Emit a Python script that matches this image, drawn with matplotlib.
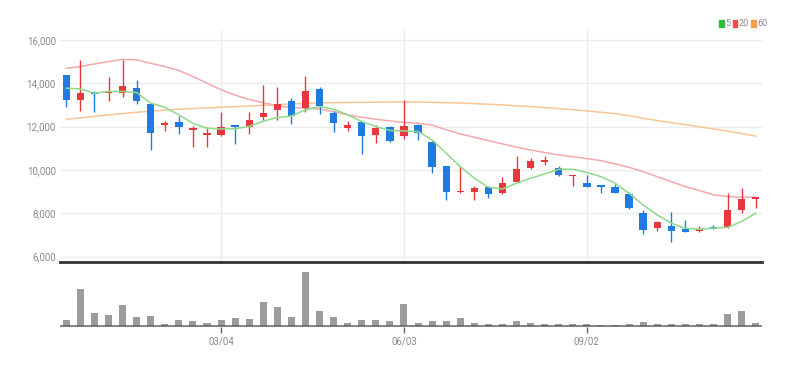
import matplotlib
matplotlib.use("Agg")
import matplotlib.pyplot as plt
from matplotlib.patches import Rectangle
import numpy as np

# weekly candles, 50 weeks (Dec 2023 .. Nov 2024)
opens = [14385, 13230, 13570, 13570, 13540, 13800, 13050, 12080, 12230, 11820,
         11620, 11620, 12060, 11970, 12460, 12770, 13200, 12880, 13740, 12620,
         11950, 12190, 11620, 12000, 11570, 12080, 11310, 10190, 8970, 8970,
         9200, 8920, 9460, 10110, 10370, 10080, 9720, 9390, 9290, 9200,
         8890, 8000, 7310, 7410, 7260, 7200, 7380, 7350, 8150, 8650]
highs = [14400, 15050, 13660, 14310, 15050, 14150, 13080, 12280, 12510, 12030,
         12000, 12690, 12080, 12650, 13940, 13820, 13300, 14340, 13820, 12740,
         12280, 12230, 12080, 12030, 13230, 12120, 11350, 10200, 10190, 9260,
         9280, 9690, 10620, 10570, 10620, 10200, 9780, 9770, 9310, 9350,
         9000, 8150, 7660, 8080, 7690, 7420, 7480, 8920, 9150, 8770]
lows = [12890, 12740, 12690, 13200, 13350, 13030, 10920, 11800, 11650, 11050,
        11050, 11570, 11200, 11660, 12310, 12310, 12120, 12690, 12590, 11770,
        11800, 10720, 11230, 11290, 11420, 11390, 9850, 8620, 8920, 8590,
        8690, 8900, 9440, 10060, 10230, 9740, 9280, 9200, 8950, 8930,
        8210, 7050, 7200, 6690, 7130, 7150, 7260, 7330, 8030, 8230]
closes = [13230, 13570, 13510, 13620, 13850, 13200, 11720, 12180, 11970, 11920,
          11690, 11970, 11970, 12310, 12620, 13040, 12490, 13620, 12970, 12150,
          12080, 11570, 11920, 11340, 12030, 11690, 10150, 9000, 9030, 9160,
          8890, 9390, 10050, 10390, 10460, 9770, 9770, 9230, 9230, 8950,
          8230, 7230, 7600, 7200, 7140, 7260, 7290, 8150, 8650, 8740]
volumes = [20, 110, 40, 35, 65, 27, 32, 7, 20, 17,
           11, 20, 26, 22, 72, 57, 27, 162, 47, 27,
           11, 20, 20, 17, 67, 11, 17, 15, 25, 11,
           6, 6, 15, 11, 8, 8, 8, 8, 5, 3,
           8, 12, 6, 8, 6, 6, 6, 38, 47, 11]
ma5 = [13770, 13740, 13540, 13620, 13620, 13570, 13080, 12890, 12540, 12150,
       11920, 11890, 11900, 12010, 12250, 12420, 12490, 12770, 12920, 12800,
       12540, 12230, 12000, 11820, 11800, 11770, 11385, 10770, 10150, 9615,
       9200, 9120, 9385, 9615, 9815, 10030, 10030, 9880, 9690, 9385,
       8920, 8385, 7920, 7540, 7310, 7260, 7310, 7350, 7615, 8000]
ma20 = [14690, 14770, 14890, 15000, 15100, 15080, 14920, 14770, 14590, 14310,
        14000, 13700, 13450, 13250, 13100, 12960, 12880, 12850, 12810, 12690,
        12540, 12430, 12340, 12260, 12200, 12150, 12070, 11850, 11660, 11510,
        11350, 11200, 11050, 10920, 10800, 10690, 10610, 10520, 10430, 10280,
        10120, 9920, 9690, 9460, 9230, 9050, 8850, 8770, 8740, 8740]
ma60 = [12340, 12400, 12470, 12540, 12600, 12660, 12710, 12760, 12800, 12830,
        12860, 12890, 12920, 12950, 12980, 13010, 13040, 13070, 13090, 13105,
        13115, 13120, 13125, 13130, 13135, 13130, 13120, 13105, 13085, 13060,
        13030, 13000, 12960, 12920, 12880, 12830, 12780, 12720, 12660, 12600,
        12500, 12380, 12280, 12180, 12090, 11990, 11890, 11790, 11680, 11560]
tick_idx = [11, 24, 37]
tick_labels = ["03/04", "06/03", "09/02"]
price_ticks = [6000, 8000, 10000, 12000, 14000, 16000]
legend_labels = ["5", "20", "60"]
legend_colors = ["#2fbf3a", "#f04a4a", "#f5a04a"]

UP, DOWN = "#e8383d", "#1f7be0"
GRID, TXT = "#ececec", "#8a8a8a"
plt.rcParams["font.family"] = ["Roboto", "DejaVu Sans"]

fig = plt.figure(figsize=(8, 3.66), dpi=100)
ax = fig.add_axes([0.075, 0.2842, 0.8775, 0.634])
axv = fig.add_axes([0.075, 0.1066, 0.8775, 0.172], sharex=ax)

x = np.arange(len(opens))
o, h, l, c = map(np.asarray, (opens, highs, lows, closes))
col = np.where(c >= o, UP, DOWN)

ax.vlines(x, l, h, colors=col, linewidth=1, zorder=3)
body_lo = np.minimum(o, c)
body_h = np.maximum(np.abs(c - o), 40)
ax.bar(x, body_h, bottom=body_lo, width=0.52, color=col, linewidth=0, zorder=4)

ax.plot(x, ma60, color="#f8c595", lw=1.1, zorder=2)
ax.plot(x, ma20, color="#f5a8ac", lw=1.1, zorder=2)
ax.plot(x, ma5, color="#8ed98a", lw=1.1, zorder=5)

ax.set_xlim(-0.45, len(opens) - 0.55)
ax.set_ylim(5750, 16460)
ax.set_yticks(price_ticks)
ax.set_yticklabels([f"{v:,}" for v in price_ticks], color=TXT, fontsize=7)
ax.tick_params(axis="y", length=0, pad=3)
ax.tick_params(axis="x", length=0, labelbottom=False)
ax.grid(axis="y", color=GRID, lw=1)
for t in tick_idx:
    ax.axvline(t, color=GRID, lw=1, zorder=0)
for s in ("top", "right", "left"):
    ax.spines[s].set_visible(False)
ax.spines["bottom"].set_color("#333333")
ax.spines["bottom"].set_linewidth(2)

axv.bar(x, volumes, width=0.5, color="#9c9c9c", linewidth=0)
axv.axhline(0, color="#555555", lw=2, alpha=0.75, zorder=3)
axv.set_ylim(-2, 186)
axv.set_yticks([])
axv.set_xticks(tick_idx)
axv.set_xticklabels(tick_labels, color=TXT, fontsize=7)
axv.tick_params(axis="x", length=4, width=1, color="#666666", pad=3)
for s in ("top", "right", "left", "bottom"):
    axv.spines[s].set_visible(False)

# legend top right: small colour square + label
sq_x = [0.899, 0.916, 0.939]
for sx, lab, cc in zip(sq_x, legend_labels, legend_colors):
    fig.patches.append(Rectangle((sx, 0.926), 0.0055, 0.019, color=cc,
                                 transform=fig.transFigure, figure=fig))
    fig.text(sx + 0.0075, 0.935, lab, color=TXT, fontsize=6.5, va="center")

fig.savefig("out.png", dpi=100)
